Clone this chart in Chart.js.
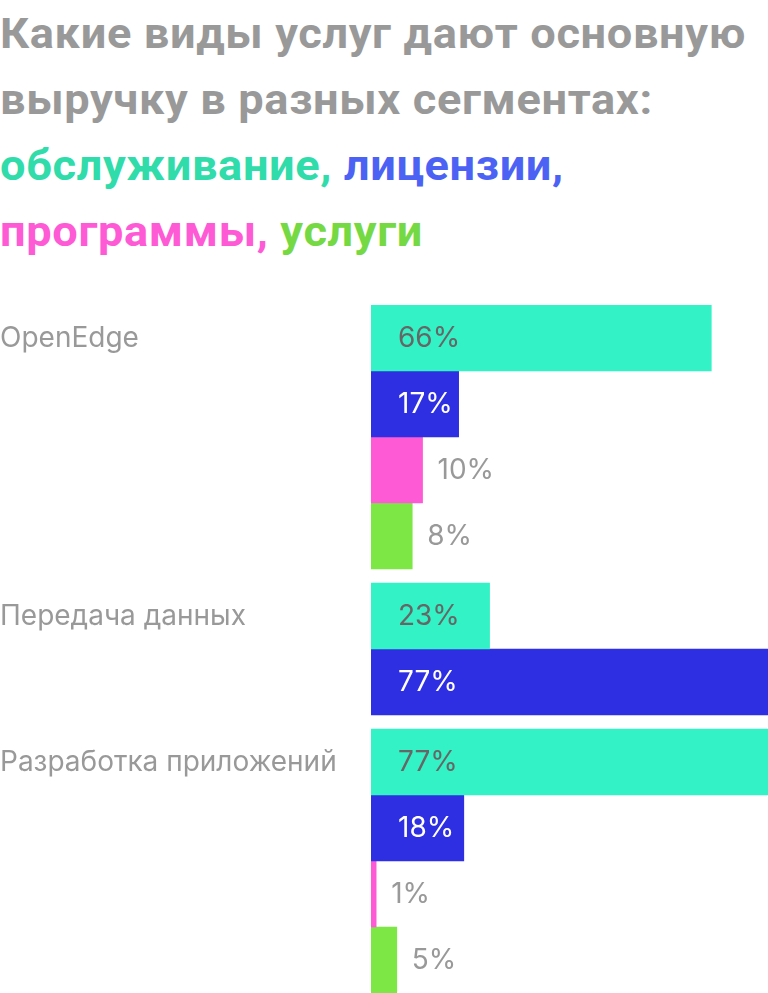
<!DOCTYPE html>
<html>
<head>
<meta charset="utf-8">
<script src="https://cdn.jsdelivr.net/npm/chart.js@4"></script>
<style>
  html, body { margin: 0; padding: 0; background: #fff; }
  #wrap { position: relative; width: 768px; height: 993px; overflow: hidden; }
  #title { position: absolute; left: 0; top: 1px; width: 768px; font-family: Roboto, sans-serif; font-weight: 700;
           font-size: 42px; line-height: 66px; letter-spacing: 0.6px; color: #999999; white-space: nowrap;
           transform: scaleX(1.075); transform-origin: 0 0; }
  #title .c1 { color: #2fdcaa; }
  #title .c2 { color: #4c62f5; }
  #title .c3 { color: #ff5ad6; }
  #title .c4 { color: #75d943; }
  canvas { position: absolute; left: 0; top: 0; }
</style>
</head>
<body>
<div id="wrap">
  <div id="title">Какие виды услуг дают основную<br>выручку в разных сегментах:<br><span class="c1">обслуживание,</span> <span class="c2">лицензии,</span><br><span class="c3">программы,</span> <span class="c4">услуги</span></div>
  <canvas id="c" width="768" height="993" style="width:768px;height:993px"></canvas>
</div>
<script>
const categories = ["OpenEdge", "Передача данных", "Разработка приложений"];
const seriesNames = ["обслуживание", "лицензии", "программы", "услуги"];
const maintenance = [66, 23, 77];
const licenses = [17, 77, 18];
const programs = [10, null, 1];
const services = [8, null, 5];
const seriesValues = [maintenance, licenses, programs, services];
const seriesColors = ["#33f2c5", "#2e2ee3", "#ff5ad6", "#7de845"];
const insideTextColors = ["#666666", "#ffffff", "#666666", "#666666"];
const xMax = 77;
const groupGap = 14 / 66;

// row positions: one unit per bar, a small gap between groups
const rowPos = seriesValues.map(() => []);
const groupFirstRow = [];
let cursor = 0;
categories.forEach((cat, g) => {
  if (g > 0) cursor += groupGap;
  let first = null;
  seriesValues.forEach((vals, s) => {
    if (vals[g] !== null && vals[g] !== undefined) {
      const pos = cursor + 0.5;
      rowPos[s].push({ x: vals[g], y: pos });
      if (first === null) first = pos;
      cursor += 1;
    }
  });
  groupFirstRow.push(first);
});
const yMax = cursor;

const datasets = seriesNames.map((name, s) => ({
  label: name,
  data: rowPos[s],
  backgroundColor: seriesColors[s],
  borderWidth: 0,
  barThickness: 66
}));

const labelFont = '400 28px Inter, "Noto Sans", sans-serif';

const labelsPlugin = {
  id: 'labels',
  afterDatasetsDraw(chart) {
    const ctx = chart.ctx;
    ctx.save();
    ctx.font = labelFont;
    ctx.textBaseline = 'middle';
    ctx.textAlign = 'left';
    chart.data.datasets.forEach((ds, s) => {
      const meta = chart.getDatasetMeta(s);
      meta.data.forEach((bar, i) => {
        const v = ds.data[i].x;
        const w = bar.x - bar.base;
        const txt = v + '%';
        if (w > 70) {
          ctx.fillStyle = insideTextColors[s];
          ctx.fillText(txt, bar.base + 27, bar.y + 1);
        } else {
          ctx.fillStyle = '#999999';
          ctx.fillText(txt, bar.x + 15, bar.y + 1);
        }
      });
    });
    const ys = chart.scales.y;
    categories.forEach((cat, g) => {
      ctx.fillStyle = '#999999';
      ctx.fillText(cat, 0, ys.getPixelForValue(groupFirstRow[g]) + 1);
    });
    ctx.restore();
  }
};

new Chart(document.getElementById('c'), {
  type: 'bar',
  data: { datasets },
  options: {
    responsive: false,
    animation: false,
    indexAxis: 'y',
    grouped: false,
    layout: { padding: { left: 371, top: 305, right: 0, bottom: 0 } },
    scales: {
      x: { type: 'linear', min: 0, max: xMax, display: false },
      y: { type: 'linear', min: 0, max: yMax, reverse: true, offset: false, display: false }
    },
    plugins: { legend: { display: false }, tooltip: { enabled: false } }
  },
  plugins: [labelsPlugin]
});
</script>
</body>
</html>
